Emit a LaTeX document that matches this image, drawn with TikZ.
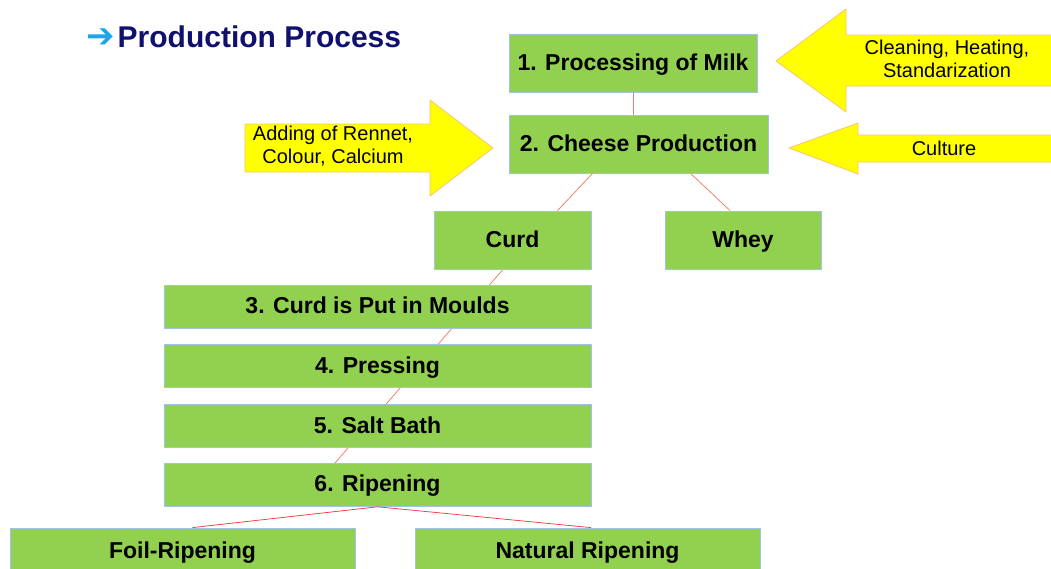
\documentclass[tikz,border=0pt]{standalone}
\usepackage{fontspec}
\setmainfont{Liberation Sans}
\newfontfamily\symfont{DejaVu Sans}
\usepackage{tikz}
\usetikzlibrary{positioning, calc, backgrounds}
\definecolor{leafgreen}{RGB}{146,208,80}
\definecolor{paleblue}{RGB}{160,196,232}
\definecolor{lemon}{RGB}{255,255,0}
\definecolor{peach}{RGB}{248,196,120}
\definecolor{salmon}{RGB}{242,130,110}
\definecolor{linered}{RGB}{238,70,70}
\definecolor{navytitle}{RGB}{16,16,110}
\definecolor{skyarrow}{RGB}{30,165,230}

\begin{document}
\begin{tikzpicture}[x=1pt, y=-1pt,
  stepbox/.style={rectangle, fill=leafgreen, draw=paleblue, line width=0.8pt,
            inner sep=0pt, font=\fontsize{23}{25}\selectfont\bfseries, align=center,
            text height=17pt, text depth=3pt},
  addarrow/.style={fill=lemon, draw=peach, line width=0.8pt},
  addtext/.style={font=\fontsize{20}{23}\selectfont, align=center, inner sep=0pt},
  link/.style={draw=salmon, line width=0.8pt}
]
\useasboundingbox (0,0) rectangle (1051,568);

% title
\node[anchor=west, inner sep=0pt, font=\fontsize{30}{34}\selectfont\bfseries, text=navytitle] (title) at (86,37)
  {{\symfont\color{skyarrow}\fontsize{34}{36}\selectfont ➔}\hspace{3pt}Production Process};

% main steps
\node[stepbox, minimum width=248pt, minimum height=58pt] (milk) at (633,63) {1. Processing of Milk};
\node[stepbox, minimum width=259pt, minimum height=58pt] (cheese) at (638.5,144) {2. Cheese Production};
\node[stepbox, minimum width=157pt, minimum height=58pt] (curd) at (512.5,240) {Curd};
\node[stepbox, minimum width=156pt, minimum height=58pt] (whey) at (743,240) {Whey};
\node[stepbox, minimum width=427pt, minimum height=43pt] (moulds) at (377.5,306.5) {3. Curd is Put in Moulds};
\node[stepbox, minimum width=427pt, minimum height=43pt, below=16pt of moulds] (pressing) {4. Pressing};
\node[stepbox, minimum width=427pt, minimum height=43pt, below=16pt of pressing] (salt) {5. Salt Bath};
\node[stepbox, minimum width=427pt, minimum height=43pt, below=15pt of salt] (ripen) {6. Ripening};
\node[stepbox, minimum width=345pt, minimum height=46pt] (foil) at (182.5,551) {Foil-Ripening};
\node[stepbox, minimum width=345pt, minimum height=46pt] (natural) at (587.5,551) {Natural Ripening};

% yellow arrows with what is added
\filldraw[addarrow] (1056,35) -- (846,35) -- (846,9) -- (776,61) -- (846,112) -- (846,86) -- (1056,86) -- cycle;
\node[addtext] (clean) at (947,59) {Cleaning, Heating,\\Standarization};
\filldraw[addarrow] (1056,135) -- (858,135) -- (858,123) -- (789,148) -- (858,174) -- (858,162) -- (1056,162) -- cycle;
\node[addtext] (culture) at (944,148) {Culture};
\filldraw[addarrow] (245,124) -- (430,124) -- (430,100) -- (493,148) -- (430,196) -- (430,172) -- (245,172) -- cycle;
\node[addtext] (rennet) at (333,146) {Adding of Rennet,\\Colour, Calcium};

% connectors
\draw[link] (milk.south) -- (milk.south |- cheese.north);
\draw[link] ($(cheese.south)+(-46,0)$) -- ($(curd.north)+(45,0)$);
\draw[link] ($(cheese.south)+(52,0)$) -- ($(whey.north)+(-13,0)$);
\begin{scope}[on background layer]
\draw[link] ($(curd.south)+(-9.5,0)$) -- ($(ripen.north)+(-42.5,0)$);
\end{scope}
\draw[link, draw=linered] (ripen.south) -- ($(foil.north)+(10,0)$);
\draw[link, draw=linered] (ripen.south) -- ($(natural.north)+(3.5,0)$);
\end{tikzpicture}
\end{document}
